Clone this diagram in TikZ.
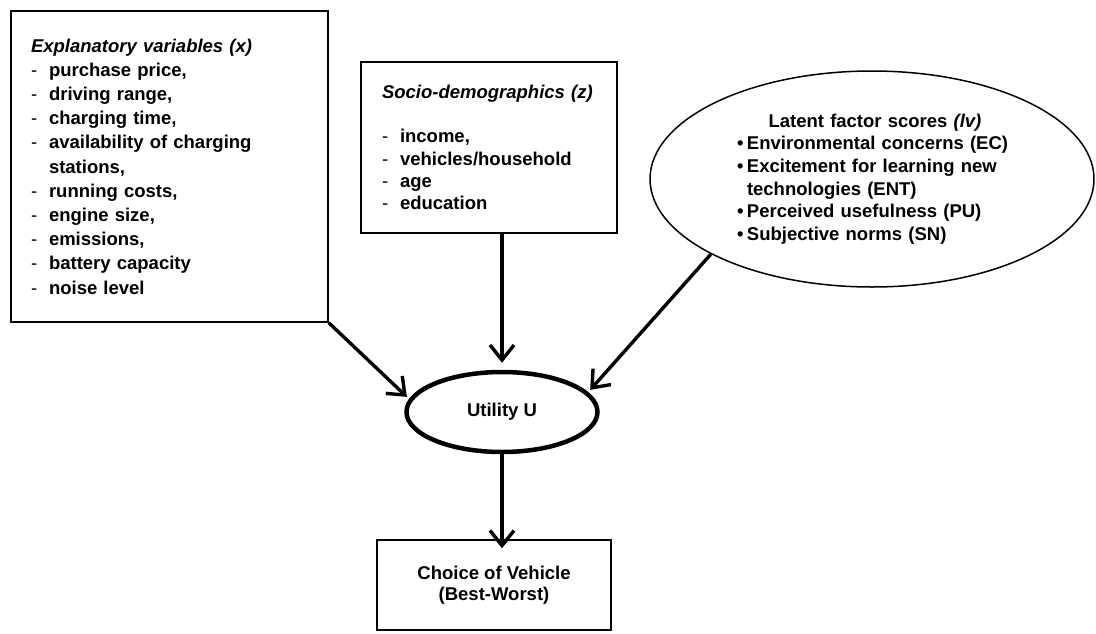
\documentclass[tikz,border=0pt]{standalone}
\usepackage{fontspec}
\setmainfont{Liberation Sans}
\usetikzlibrary{shapes.geometric,arrows.meta}
\newcommand{\dsh}{\makebox[18pt][l]{\mdseries -}}
\newcommand{\bul}{\hspace*{15pt}\makebox[10pt][l]{\textbullet}}
\begin{document}
\begin{tikzpicture}[>={Straight Barb[length=15pt,width=24pt]},x=1pt,y=-1pt,
	box/.style={draw,line width=1.5pt,rectangle,inner sep=0pt,font=\bfseries\fontsize{18.5}{22.3}\selectfont},
	link/.style={->,line width=3.4pt}]
	\useasboundingbox (0,0) rectangle (1096,633);
	% explanatory variables
	\node[box,minimum width=317pt,minimum height=311pt,text width=277pt,align=left,
		font=\bfseries\fontsize{18.5}{24.2}\selectfont] (expl) at (169.5,166.5)
		{\textit{Explanatory variables (x)}\\
		\dsh purchase price,\\
		\dsh driving range,\\
		\dsh charging time,\\
		\dsh availability of charging\\
		\hspace*{18pt}stations,\\
		\dsh running costs,\\
		\dsh engine size,\\
		\dsh emissions,\\
		\dsh battery capacity\\
		\dsh noise level};
	% socio-demographics
	\node[box,minimum width=256pt,minimum height=171pt,text width=214pt,align=left] (socio) at (489,147.5)
		{\textit{Socio-demographics (z)}\\[22.3pt]
		\dsh income,\\
		\dsh vehicles/household\\
		\dsh age\\
		\dsh education};
	% latent factors
	\node[box,ellipse,minimum width=444pt,minimum height=216pt,text width=300pt,align=left,
		font=\bfseries\fontsize{18.5}{22.6}\selectfont] (latent) at (872,179)
		{\makebox[\linewidth]{\hspace*{6pt}Latent factor scores \textit{(lv)}}\\
		\bul Environmental concerns (EC)\\
		\bul Excitement for learning new\\
		\hspace*{25pt}technologies (ENT)\\
		\bul Perceived usefulness (PU)\\
		\bul Subjective norms (SN)};
	\node[box,ellipse,line width=4.5pt,minimum width=191pt,minimum height=80pt] (util) at (502,412) {Utility U};
	\node[box,minimum width=234pt,minimum height=90pt,align=center,
		font=\bfseries\fontsize{18.5}{20.5}\selectfont] (choice) at (494,585)
		{Choice of Vehicle\\(Best-Worst)};
	\draw[link,shorten >=3pt] (expl.south east) -- (util.172);
	\draw[link,shorten >=7pt] (socio.south -| util.north) -- (util.north);
	\draw[link,shorten >=3pt] (latent.205) -- (util.13);
	\draw[link,shorten >=-9pt] (util.south) -- (util.south |- choice.north);
\end{tikzpicture}
\end{document}
